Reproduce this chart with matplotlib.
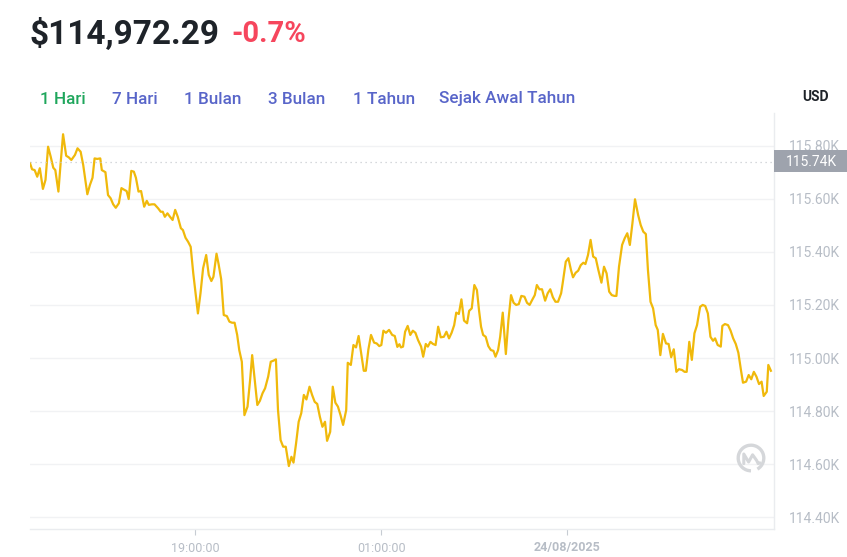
import matplotlib.pyplot as plt
from matplotlib.patches import Rectangle, Arc
from matplotlib.transforms import blended_transform_factory

# minutes since 13:40, price in USD (5 minute candles)
minutes = [0, 4, 9, 14, 19, 25, 30, 35, 40, 45, 49, 55, 59, 64, 70, 75, 80, 87, 92, 98,
           103, 111, 116, 121, 125, 130, 136, 139, 146, 151, 156, 161, 166, 172, 177, 183, 187, 191, 196, 201,
           205, 210, 215, 221, 226, 230, 236, 241, 248, 253, 257, 261, 266, 271, 276, 281, 286, 292, 296, 301,
           306, 311, 316, 321, 325, 330, 335, 341, 346, 351, 355, 361, 365, 370, 375, 381, 386, 391, 396, 401,
           405, 410, 415, 421, 426, 430, 435, 440, 445, 450, 455, 461, 466, 471, 476, 480, 485, 490, 495, 501,
           506, 510, 515, 520, 525, 530, 535, 541, 546, 551, 556, 561, 566, 571, 575, 581, 586, 591, 596, 601,
           606, 612, 615, 621, 626, 631, 636, 641, 646, 650, 655, 660, 666, 671, 676, 680, 684, 689, 695, 701,
           706, 711, 715, 718, 722, 726, 731, 736, 741, 746, 751, 757, 761, 766, 770, 775, 780, 785, 790, 795,
           801, 806, 811, 816, 821, 825, 830, 835, 840, 846, 850, 855, 860, 865, 869, 873, 877, 882, 887, 892,
           897, 901, 906, 910, 915, 921, 926, 931, 936, 941, 946, 951, 957, 962, 967, 972, 977, 981, 986, 991,
           997, 1002, 1007, 1012, 1017, 1022, 1028, 1031, 1037, 1042, 1047, 1051, 1056, 1061, 1066, 1071, 1075, 1080, 1085, 1090,
           1095, 1100, 1106, 1111, 1116, 1121, 1126, 1131, 1135, 1140, 1146, 1151, 1156, 1161, 1166, 1171, 1177, 1182, 1187, 1192,
           1196, 1201, 1206, 1211, 1215, 1220, 1225, 1231, 1236, 1241, 1246, 1251, 1256, 1262, 1267, 1271, 1276, 1281, 1286, 1291,
           1297, 1302, 1307, 1312, 1317, 1322, 1326, 1331, 1337, 1340, 1345, 1351, 1356, 1361, 1366, 1371, 1376, 1380, 1386, 1391,
           1396, 1401, 1406, 1411, 1416, 1420, 1426, 1429, 1434]
prices = [115734, 115711, 115708, 115683, 115715, 115637, 115671, 115796, 115759, 115717,
          115708, 115627, 115727, 115843, 115762, 115756, 115746, 115765, 115790, 115777,
          115727, 115617, 115652, 115679, 115752, 115750, 115752, 115708, 115700, 115614,
          115602, 115579, 115566, 115583, 115640, 115633, 115629, 115599, 115705, 115702,
          115679, 115627, 115629, 115570, 115592, 115577, 115579, 115579, 115564, 115551,
          115551, 115532, 115545, 115532, 115520, 115558, 115532, 115489, 115482, 115453,
          115438, 115419, 115319, 115237, 115168, 115244, 115338, 115388, 115313, 115290,
          115306, 115393, 115354, 115297, 115162, 115158, 115137, 115133, 115133, 115087,
          115030, 114986, 114785, 114817, 114917, 115011, 114917, 114823, 114839, 114867,
          114886, 114930, 114986, 114990, 114995, 114804, 114691, 114666, 114666, 114593,
          114628, 114606, 114679, 114760, 114792, 114861, 114844, 114892, 114861, 114835,
          114827, 114779, 114741, 114760, 114688, 114722, 114892, 114832, 114817, 114785,
          114748, 114804, 114982, 114974, 115049, 115040, 115083, 115018, 114952, 114952,
          115033, 115087, 115058, 115055, 115045, 115049, 115103, 115095, 115106, 115087,
          115083, 115042, 115052, 115040, 115043, 115099, 115121, 115087, 115103, 115095,
          115068, 115043, 115005, 115053, 115043, 115061, 115053, 115049, 115118, 115078,
          115080, 115099, 115074, 115095, 115124, 115171, 115166, 115221, 115141, 115131,
          115178, 115187, 115275, 115256, 115181, 115118, 115087, 115080, 115045, 115030,
          115027, 115005, 115030, 115080, 115171, 115015, 115143, 115237, 115208, 115200,
          115203, 115234, 115231, 115208, 115200, 115219, 115237, 115275, 115259, 115259,
          115216, 115244, 115259, 115229, 115212, 115212, 115244, 115282, 115363, 115376,
          115332, 115304, 115321, 115329, 115350, 115359, 115354, 115388, 115445, 115382,
          115376, 115332, 115284, 115344, 115319, 115250, 115237, 115234, 115234, 115344,
          115426, 115451, 115470, 115426, 115508, 115598, 115539, 115501, 115476, 115467,
          115332, 115212, 115187, 115124, 115106, 115011, 115091, 115055, 115053, 115003,
          115033, 114948, 114958, 114955, 114948, 114948, 115061, 114993, 115093, 115124,
          115193, 115200, 115196, 115168, 115080, 115065, 115074, 115049, 115043, 115121,
          115128, 115124, 115103, 115074, 115053, 115020, 114955, 114907, 114911, 114936,
          114920, 114948, 114930, 114902, 114911, 114857, 114873, 114974, 114952]

y_ticks = [114400, 114600, 114800, 115000, 115200, 115400, 115600, 115800]
y_labels = ['114.40K', '114.60K', '114.80K', '115.00K', '115.20K', '115.40K', '115.60K', '115.80K']
x_ticks = [320, 680, 1040]
x_labels = ['19:00:00', '01:00:00', '24/08/2025']
tabs = ['1 Hari', '7 Hari', '1 Bulan', '3 Bulan', '1 Tahun', 'Sejak Awal Tahun']
tab_x = [40, 112, 184, 268, 353, 439]
ref_price = 115740

plt.rcParams['font.family'] = ['Roboto', 'DejaVu Sans']

W, H = 847, 557
fig = plt.figure(figsize=(W / 100, H / 100), dpi=100)
fig.patch.set_facecolor('white')

ax = fig.add_axes([30 / W, 1 - 529 / H, 744 / W, (529 - 113) / H])
ax.plot(minutes, prices, color='#f0b90b', lw=1.6, solid_joinstyle='round')
ax.set_xlim(0, 1440)
ax.set_ylim(114356, 115923)

ax.axhline(ref_price, color='#c9ccd1', lw=0.9, ls=(0, (1, 3)))

ax.yaxis.tick_right()
ax.set_yticks(y_ticks)
ax.set_yticklabels(y_labels)
ax.set_xticks(x_ticks)
ax.set_xticklabels(x_labels)
ax.tick_params(axis='y', length=0, pad=11, labelsize=10, labelcolor='#b7bdc6')
ax.tick_params(axis='x', length=4, width=0.8, color='#c7ccd3', pad=5,
               labelsize=9, labelcolor='#b7bdc6')
ax.get_xticklabels()[2].set_fontweight('bold')
ax.grid(axis='y', color='#f1f2f4', lw=1)
for side in ['left', 'top']:
    ax.spines[side].set_visible(False)
for side in ['right', 'bottom']:
    ax.spines[side].set_color('#eaecef')
    ax.spines[side].set_linewidth(1)

# current price box on the right axis
tr = blended_transform_factory(fig.transFigure, ax.transData)
ax.add_patch(Rectangle((774 / W, ref_price - 41), 73 / W, 83, transform=tr,
                       facecolor='#9ea3ad', edgecolor='none', clip_on=False, zorder=5))
ax.text(786 / W, ref_price, '115.74K', transform=tr, color='white', fontsize=10,
        va='center', ha='left', zorder=6)

# header
fig.text(29 / W, 1 - 34 / H, '$114,972.29', fontsize=24, fontweight='bold',
         color='#1e2329', va='center', ha='left')
fig.text(231 / W, 1 - 34 / H, '-0.7%', fontsize=21, fontweight='bold',
         color='#f6465d', va='center', ha='left')

for i, (label, x) in enumerate(zip(tabs, tab_x)):
    fig.text(x / W, 1 - 99 / H, label, fontsize=12.3, fontweight='medium',
             va='center', ha='left', color='#1fa65c' if i == 0 else '#5865c9')
fig.text(802 / W, 1 - 97 / H, 'USD', fontsize=10, fontweight='bold',
         color='#1e2329', va='center', ha='left')

# watermark logo
lax = fig.add_axes([(751 - 16) / W, 1 - (458 + 16) / H, 32 / W, 32 / H])
lax.set_xlim(-1, 1)
lax.set_ylim(-1, 1)
lax.axis('off')
lax.add_patch(Arc((0, 0), 1.6, 1.6, theta1=-60, theta2=270, color='#d5d7da', lw=2.4))
lax.plot([-0.45, -0.45, -0.15, 0.1, 0.35, 0.45, 0.55],
         [-0.35, 0.25, -0.25, 0.2, -0.15, -0.35, -0.3], color='#d5d7da', lw=2.2,
         solid_joinstyle='round', solid_capstyle='round')

fig.savefig('out.png', dpi=100)
